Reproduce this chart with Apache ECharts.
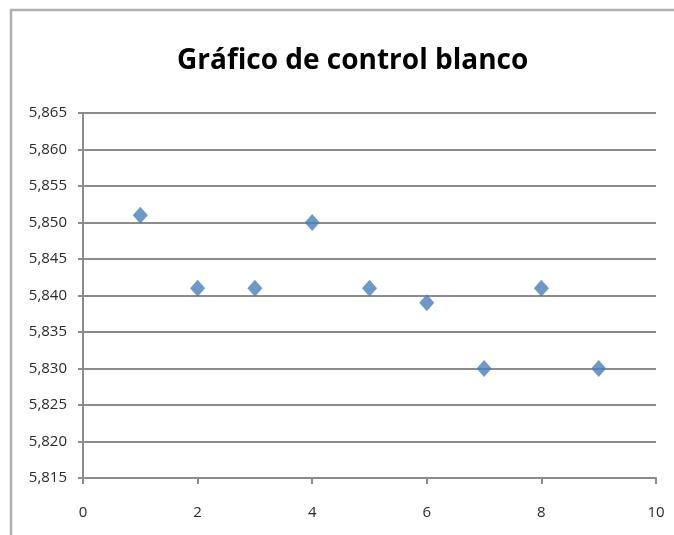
<!DOCTYPE html>
<html>
<head>
<meta charset="utf-8">
<script src="https://cdn.jsdelivr.net/npm/echarts@6/dist/echarts.min.js"></script>
<style>
html,body{margin:0;padding:0;background:#fff;}
#chart{width:674px;height:535px;}
</style>
</head>
<body>
<div id="chart"></div>
<script>
// Sample number and measured blank value
const samples = [1, 2, 3, 4, 5, 6, 7, 8, 9];
const blankValues = [5.851, 5.841, 5.841, 5.850, 5.841, 5.839, 5.830, 5.841, 5.830];
const titleText = 'Gráfico de control blanco';

const chart = echarts.init(document.getElementById('chart'));
const labelFont = 'Open Sans, Liberation Sans, sans-serif';

chart.setOption({
  animation: false,
  backgroundColor: '#ffffff',
  graphic: [{
    type: 'rect',
    shape: { x: 11, y: 10, width: 720, height: 600 },
    style: { fill: 'none', stroke: '#b0b0b0', lineWidth: 2.5 }
  }],
  title: {
    text: titleText,
    left: 172,
    top: 42,
    textStyle: { fontFamily: labelFont, fontWeight: 'bold', fontSize: 28, color: '#000' }
  },
  grid: { left: 83, right: 18, top: 113, bottom: 57 },
  xAxis: {
    type: 'value', min: 0, max: 10, interval: 2,
    axisLine: { show: true, lineStyle: { color: '#8c8c8c', width: 2 } },
    axisTick: { show: true, length: 6, lineStyle: { color: '#8c8c8c', width: 2 } },
    splitLine: { show: false },
    axisLabel: { margin: 27, fontFamily: labelFont, fontSize: 15, color: '#2a2a2a' }
  },
  yAxis: {
    type: 'value', min: 5.815, max: 5.865, interval: 0.005,
    axisLine: { show: true, lineStyle: { color: '#8c8c8c', width: 2 } },
    axisTick: { show: true, length: 5, lineStyle: { color: '#8c8c8c', width: 2 } },
    splitLine: { show: true, lineStyle: { color: '#8c8c8c', width: 2 } },
    axisLabel: {
      margin: 16, fontFamily: labelFont, fontSize: 15, color: '#2a2a2a',
      formatter: v => v.toFixed(3).replace('.', ',')
    }
  },
  series: [{
    type: 'scatter',
    symbol: 'diamond',
    symbolSize: [15, 17],
    itemStyle: { color: '#4a7ebb' },
    data: samples.map((s, i) => [s, blankValues[i]])
  }]
});
</script>
</body>
</html>
